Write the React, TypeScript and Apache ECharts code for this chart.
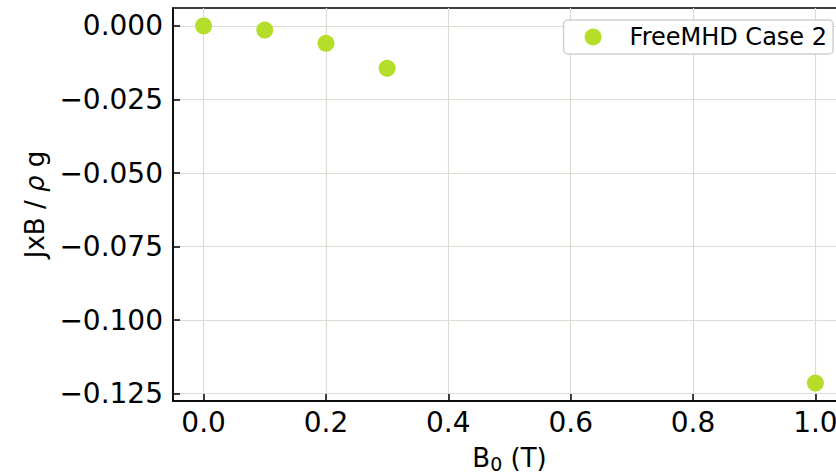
import React, { useEffect, useRef } from "react";
import * as echarts from "echarts";

const xValues = [0, 0.1, 0.2, 0.3, 1.0];
const yValues = [0, -0.0014, -0.0059, -0.0144, -0.1214];
const xTicks = [0, 0.2, 0.4, 0.6, 0.8, 1.0];
const yTicks = [-0.125, -0.1, -0.075, -0.05, -0.025, 0];
const seriesName = "FreeMHD Case 2";
const xLabel = "{m|B}{s|0}{m| (T)}";
const yLabel = "{m|JxB / }{i|\u03c1}{m| g}";

const FONT = "DejaVu Sans";
const fmt = (v: number, d: number) => {
  const s = Math.abs(v).toFixed(d);
  return (v < -1e-9 ? "\u2212" : "") + s;
};

export default function App() {
  const ref = useRef<HTMLDivElement>(null);
  useEffect(() => {
    const chart = echarts.init(ref.current!, null, { renderer: "svg" });
    const gridColor = "#dcdcd5";
    chart.setOption({
      animation: false,
      textStyle: { fontFamily: FONT },
      grid: {
        left: 173,
        top: 8,
        right: 0,
        bottom: 73,
        show: true,
        borderColor: "#000",
        borderWidth: 1.5,
        backgroundColor: "transparent",
        outerBoundsMode: "none",
        containLabel: false,
      },
      legend: {
        right: 13,
        top: 20,
        padding: [5, 6, 5, 21],
        icon: "circle",
        itemWidth: 17,
        itemHeight: 17,
        backgroundColor: "rgba(255,255,255,0.9)",
        borderColor: "#d0d0d0",
        borderWidth: 1.5,
        borderRadius: 4,
        textStyle: {
          fontFamily: FONT,
          fontSize: 24,
          color: "#000",
          padding: [0, 0, 0, 23],
        },
        data: [seriesName],
      },
      xAxis: {
        type: "value",
        min: -0.05,
        max: 1.05,
        name: xLabel,
        nameLocation: "middle",
        nameGap: 40,
        nameTextStyle: {
          fontFamily: FONT,
          fontSize: 26,
          color: "#000",
          rich: {
            m: { fontFamily: FONT, fontSize: 26, color: "#000", lineHeight: 34, verticalAlign: "middle" },
            s: { fontFamily: FONT, fontSize: 19, color: "#000", lineHeight: 34, verticalAlign: "middle", padding: [12, 0, 0, 0] },
          },
        },
        axisLine: { show: true, onZero: false, lineStyle: { color: "#000", width: 1.5 } },
        axisTick: {
          show: true,
          inside: true,
          length: 7,
          customValues: xTicks,
          lineStyle: { color: "#000", width: 1.5 },
        },
        axisLabel: {
          customValues: xTicks,
          formatter: (v: number) => fmt(v, 1),
          fontFamily: FONT,
          fontSize: 28,
          color: "#000",
          margin: 7,
        },
        splitLine: { show: true, lineStyle: { color: gridColor, width: 1.2 } },
      },
      yAxis: {
        type: "value",
        min: -0.1275,
        max: 0.0061,
        name: yLabel,
        nameLocation: "middle",
        nameRotate: 90,
        nameGap: 114,
        nameTextStyle: {
          fontFamily: FONT,
          fontSize: 26,
          color: "#000",
          rich: {
            m: { fontFamily: FONT, fontSize: 26, color: "#000" },
            i: { fontFamily: FONT, fontSize: 26, color: "#000", fontStyle: "italic" },
          },
        },
        axisLine: { show: true, onZero: false, lineStyle: { color: "#000", width: 1.5 } },
        axisTick: {
          show: true,
          inside: true,
          length: 7,
          customValues: yTicks,
          lineStyle: { color: "#000", width: 1.5 },
        },
        axisLabel: {
          customValues: yTicks,
          formatter: (v: number) => fmt(v, 3),
          fontFamily: FONT,
          fontSize: 28,
          color: "#000",
          margin: 10,
        },
        splitLine: { show: true, lineStyle: { color: gridColor, width: 1.2 } },
      },
      series: [
        {
          name: seriesName,
          type: "scatter",
          symbol: "circle",
          symbolSize: 17,
          itemStyle: { color: "#b5de2b", opacity: 1 },
          data: xValues.map((x, i) => [x, yValues[i]]),
        },
      ],
    });
    return () => chart.dispose();
  }, []);
  return (
    <div style={{ position: "absolute", left: 0, top: 0, width: 836, height: 474, overflow: "hidden" }}>
      <div ref={ref} style={{ width: 846, height: 474 }} />
    </div>
  );
}
